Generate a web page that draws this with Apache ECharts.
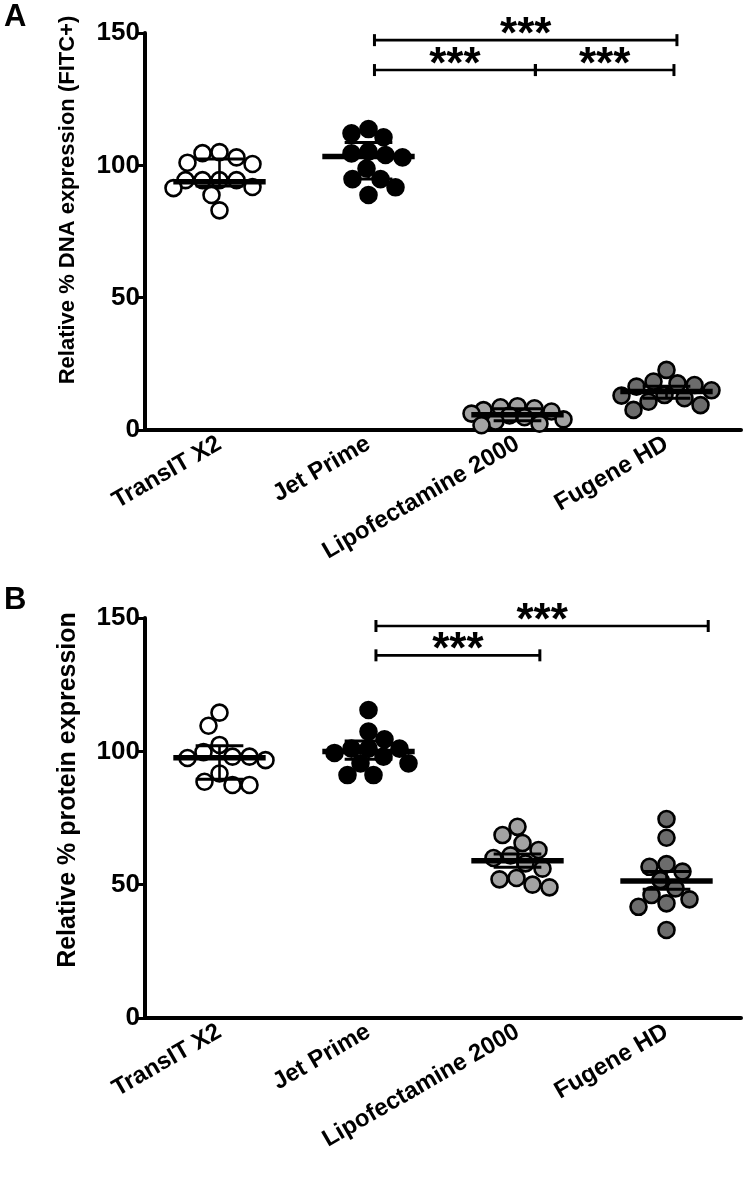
<!DOCTYPE html>
<html><head><meta charset="utf-8">
<script src="https://cdn.jsdelivr.net/npm/echarts@6/dist/echarts.min.js"></script>
<style>html,body{margin:0;padding:0;background:#fff}#c{width:750px;height:1191px}</style>
</head><body><div id="c"></div>
<script>
// ---------- data ----------
const categories = ['TransIT X2', 'Jet Prime', 'Lipofectamine 2000', 'Fugene HD'];
const yTicks = [0, 50, 100, 150];
const panelLetters = ['A', 'B'];
const yTitleA = 'Relative % DNA expression (FITC+)';
const yTitleB = 'Relative % protein expression';
const sigLabel = '***';

// Panel A: relative % DNA expression
const dnaTransIT = [105, 104.6, 103, 101, 100.5, 94.4, 94.4, 94.4, 94.4, 91.8, 91.4, 88.8, 83];
const dnaJetPrime = [113.7, 112.1, 110.6, 105.2, 104.5, 103.9, 103, 98.8, 94.8, 94.8, 91.7, 88.8];
const dnaLipo = [9, 8.6, 8.2, 7.5, 7, 6.2, 5.5, 4.8, 4, 3.2, 2.4, 1.8];
const dnaFugene = [22.7, 18.3, 17.6, 17, 16.4, 15, 13.2, 13, 12, 10.7, 9.4, 7.6];
const dnaCenter = [93.8, 103.3, 5.8, 14.5];
const dnaLow = [92.2, 94.8, 3.5, 12.0];
const dnaHigh = [102.4, 108.6, 8.0, 16.5];
// brackets A: [from, to, level]
const dnaBrackets = [[1.04, 3.07, 147.3], [1.04, 2.12, 136], [2.12, 3.05, 136]];

// Panel B: relative % protein expression
const protTransIT = [114.5, 109.6, 102.4, 99.7, 98, 98, 97.5, 96.7, 91.7, 88.6, 87.4, 87.4];
const protJetPrime = [115.5, 107.4, 104.5, 101, 101, 101, 99.4, 98, 95.5, 95.5, 91.1, 91.1];
const protLipo = [71.7, 68.6, 65.6, 63, 61, 60, 58, 56, 52.5, 52, 50, 49];
const protFugene = [74.6, 67.6, 57.7, 56.7, 54.9, 51.7, 48.6, 46.1, 44.5, 43, 41.7, 33];
const protCenter = [97.6, 99.9, 59, 51.4];
const protLow = [89.5, 97, 56.5, 48.3];
const protHigh = [102.1, 103.9, 61.5, 54.9];
const protBrackets = [[1.05, 3.28, 147], [1.05, 2.15, 136]];

const dnaGroups = [dnaTransIT, dnaJetPrime, dnaLipo, dnaFugene];
const protGroups = [protTransIT, protJetPrime, protLipo, protFugene];

// ---------- styles ----------
const FONT = 'Liberation Sans, Arial, sans-serif';
const fills = ['#ffffff', '#000000', '#a3a3a3', '#6c6c6c'];
const R = 8;

const chart = echarts.init(document.getElementById('c'), null, {renderer: 'canvas'});

function pointData(groups, offsets) {
  const out = [];
  groups.forEach((vals, g) => vals.forEach((v, i) => out.push([g + (offsets ? offsets[g][i] : 0), v, g])));
  return out;
}
function summaryData(c, lo, hi) { return c.map((v, g) => [g, v, lo[g], hi[g]]); }

function renderPoint(params, api) {
  const p = api.coord([api.value(0), api.value(1)]);
  const g = api.value(2);
  return {type: 'circle', shape: {cx: p[0], cy: p[1], r: R},
    style: {fill: fills[g], stroke: '#000', lineWidth: 2.6}};
}
function renderSummary(params, api) {
  const g = api.value(0);
  const c = api.coord([g, api.value(1)]);
  const lo = api.coord([g, api.value(2)]);
  const hi = api.coord([g, api.value(3)]);
  const hw = api.size([0.31, 0])[0];
  const cw = api.size([0.16, 0])[0];
  const st = (w) => ({stroke: '#000', lineWidth: w, lineCap: 'butt'});
  return {type: 'group', children: [
    {type: 'line', shape: {x1: c[0], y1: lo[1], x2: c[0], y2: hi[1]}, style: st(2.6)},
    {type: 'line', shape: {x1: c[0] - cw, y1: lo[1], x2: c[0] + cw, y2: lo[1]}, style: st(3)},
    {type: 'line', shape: {x1: c[0] - cw, y1: hi[1], x2: c[0] + cw, y2: hi[1]}, style: st(3)},
    {type: 'line', shape: {x1: c[0] - hw, y1: c[1], x2: c[0] + hw, y2: c[1]}, style: st(5.5)}
  ]};
}
function renderBracket(params, api) {
  const a = api.coord([api.value(0), api.value(2)]);
  const b = api.coord([api.value(1), api.value(2)]);
  const st = (w) => ({stroke: '#000', lineWidth: w});
  return {type: 'group', children: [
    {type: 'line', shape: {x1: a[0], y1: a[1], x2: b[0], y2: b[1]}, style: st(2.6)},
    {type: 'line', shape: {x1: a[0], y1: a[1] - 6, x2: a[0], y2: a[1] + 6}, style: st(3)},
    {type: 'line', shape: {x1: b[0], y1: b[1] - 6, x2: b[0], y2: b[1] + 6}, style: st(3)},
    {type: 'text', style: {text: sigLabel, x: (a[0] + b[0]) / 2, y: a[1] - 4,
      align: 'center', verticalAlign: 'middle', font: 'bold 44px ' + FONT, fill: '#000'}}
  ]};
}

function catAxis(gridIndex) {
  return {type: 'category', gridIndex, data: categories, boundaryGap: true,
    axisLine: {onZero: false, lineStyle: {color: '#000', width: 4}},
    axisTick: {alignWithLabel: true, length: 7, lineStyle: {color: '#000', width: 3}},
    axisLabel: {rotate: 30, margin: 12, color: '#000', fontWeight: 'bold', fontSize: 24, fontFamily: FONT},
    splitLine: {show: false}};
}
function valXAxis(gridIndex) {
  return {type: 'value', gridIndex, min: -0.5, max: 3.5, show: false};
}
function yAxis(gridIndex) {
  return {type: 'value', gridIndex, min: yTicks[0], max: yTicks[yTicks.length - 1], interval: yTicks[1] - yTicks[0],
    axisLine: {show: true, onZero: false, lineStyle: {color: '#000', width: 4}},
    axisTick: {show: true, length: 7, lineStyle: {color: '#000', width: 3}},
    axisLabel: {color: '#000', fontWeight: 'bold', fontSize: 26, fontFamily: FONT, margin: 5},
    splitLine: {show: false}};
}

function buildSeries(offA, offB) {
  return [
    {type: 'custom', xAxisIndex: 1, yAxisIndex: 0, renderItem: renderPoint, data: pointData(dnaGroups, offA), z: 2, clip: false},
    {type: 'custom', xAxisIndex: 1, yAxisIndex: 0, renderItem: renderSummary, data: summaryData(dnaCenter, dnaLow, dnaHigh), z: 3, clip: false},
    {type: 'custom', xAxisIndex: 1, yAxisIndex: 0, renderItem: renderBracket, data: dnaBrackets, z: 3, clip: false},
    {type: 'custom', xAxisIndex: 3, yAxisIndex: 1, renderItem: renderPoint, data: pointData(protGroups, offB), z: 2, clip: false},
    {type: 'custom', xAxisIndex: 3, yAxisIndex: 1, renderItem: renderSummary, data: summaryData(protCenter, protLow, protHigh), z: 3, clip: false},
    {type: 'custom', xAxisIndex: 3, yAxisIndex: 1, renderItem: renderBracket, data: protBrackets, z: 3, clip: false}
  ];
}

const option = {
  animation: false,
  backgroundColor: '#fff',
  grid: [
    {left: 145, top: 33, width: 596, height: 397},
    {left: 145, top: 618, width: 596, height: 400}
  ],
  xAxis: [catAxis(0), valXAxis(0), catAxis(1), valXAxis(1)],
  yAxis: [yAxis(0), yAxis(1)],
  graphic: [
    {type: 'text', left: 4, top: 2, style: {text: panelLetters[0], font: 'bold 31px ' + FONT, fill: '#000'}},
    {type: 'text', left: 4, top: 585, style: {text: panelLetters[1], font: 'bold 31px ' + FONT, fill: '#000'}},
    {type: 'text', x: 68, y: 200, rotation: Math.PI / 2,
      style: {text: yTitleA, font: 'bold 22px ' + FONT, fill: '#000', align: 'center', verticalAlign: 'middle'}},
    {type: 'text', x: 68, y: 790, rotation: Math.PI / 2,
      style: {text: yTitleB, font: 'bold 25px ' + FONT, fill: '#000', align: 'center', verticalAlign: 'middle'}}
  ],
  series: buildSeries(null, null)
};
chart.setOption(option);

// beeswarm layout in pixel space (width-limited, overlap allowed when crowded),
// converted back to data units through the axes
function swarm(vals, xAxisIndex, yAxisIndex) {
  const pxX = chart.convertToPixel({xAxisIndex}, 1) - chart.convertToPixel({xAxisIndex}, 0);
  const py = vals.map(v => chart.convertToPixel({yAxisIndex}, v));
  const order = vals.map((v, i) => i).sort((a, b) => vals[b] - vals[a]);
  const placed = [], off = new Array(vals.length).fill(0);
  const minD = 2 * R + 1, maxHalf = 46;
  order.forEach((i, k) => {
    const y = py[i];
    const sign = k % 2 === 0 ? 1 : -1;
    let best = null, bestScore = -1, bestX = 0;
    for (let s = 0; s <= maxHalf && best === null; s++) {
      const cands = s === 0 ? [0] : [sign * s, -sign * s];
      for (const x of cands) {
        const md = placed.length ? Math.min(...placed.map(p => Math.hypot(p.x - x, p.y - y))) : 1e9;
        if (md >= minD) { best = x; break; }
        if (md > bestScore + 0.5) { bestScore = md; bestX = x; }
      }
    }
    if (best === null) best = bestX;
    off[i] = best / pxX;
    placed.push({x: best, y});
  });
  return off;
}
const offA = dnaGroups.map(v => swarm(v, 1, 0));
const offB = protGroups.map(v => swarm(v, 3, 1));
chart.setOption({series: buildSeries(offA, offB)});
</script>
</body></html>
